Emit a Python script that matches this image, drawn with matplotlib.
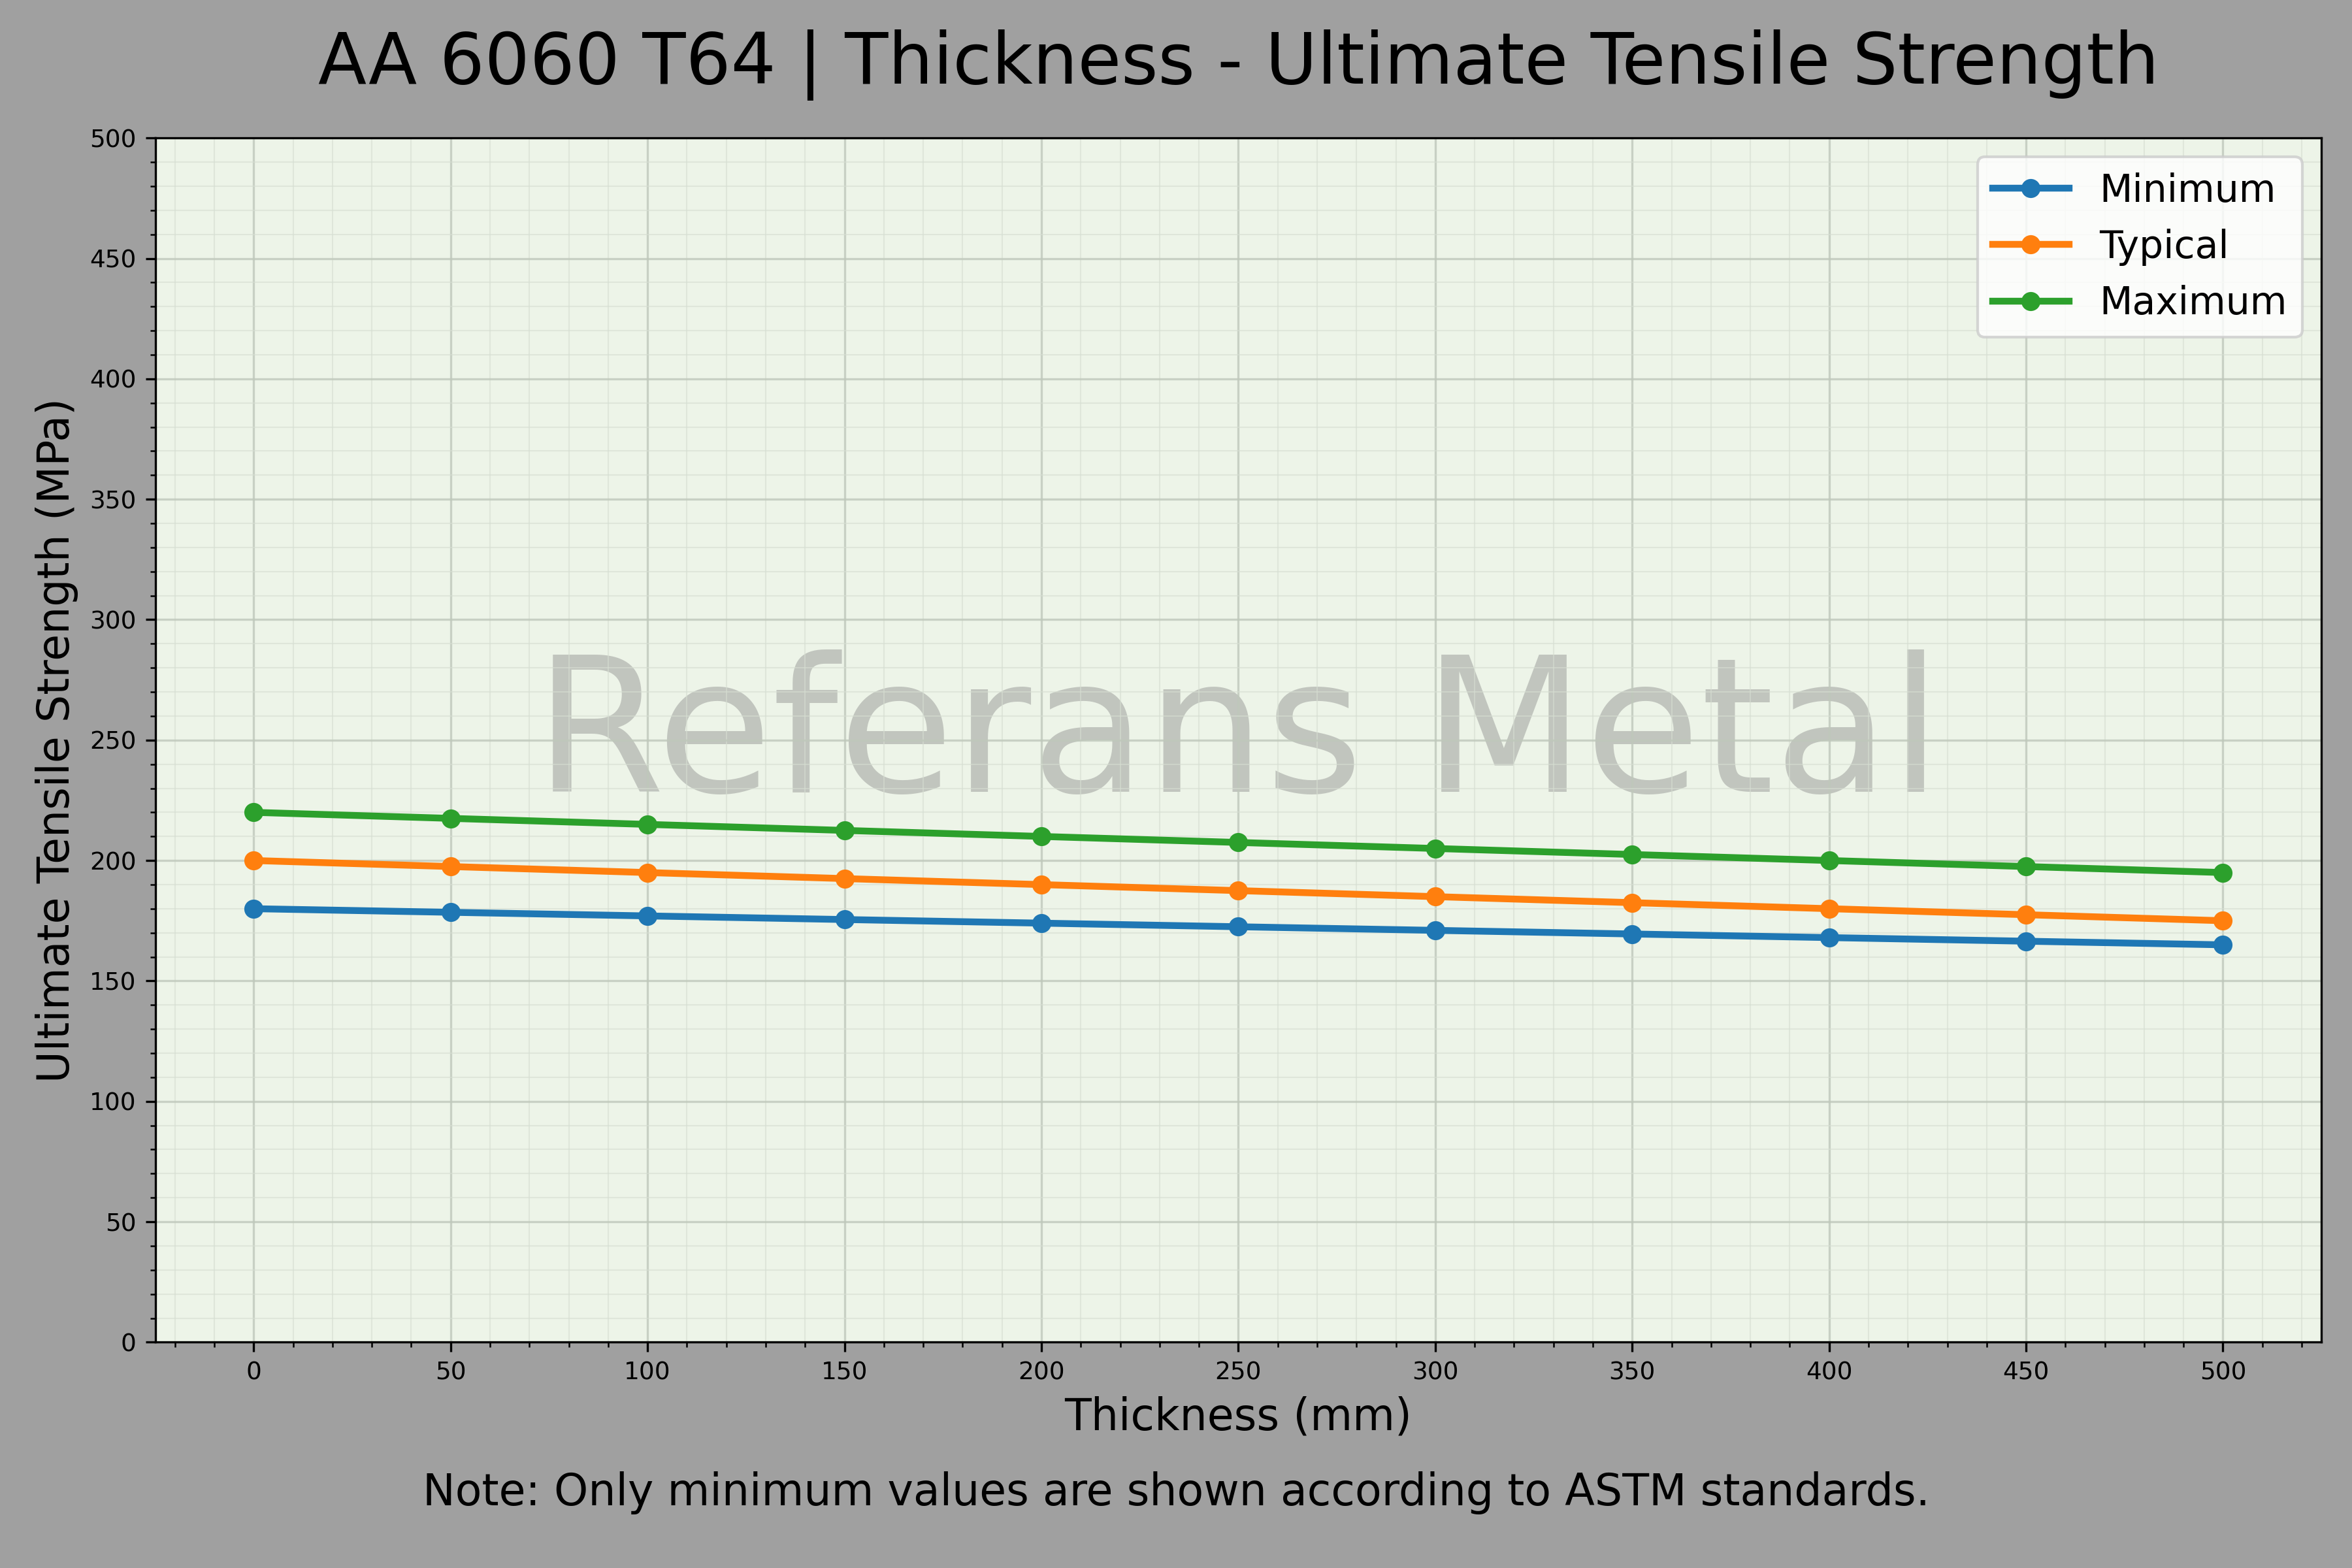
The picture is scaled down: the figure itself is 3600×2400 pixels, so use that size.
import matplotlib
matplotlib.use("Agg")
import matplotlib.pyplot as plt
from matplotlib.ticker import AutoMinorLocator

thickness = [0, 50, 100, 150, 200, 250, 300, 350, 400, 450, 500]
minimum = [180, 178.5, 177, 175.5, 174, 172.5, 171, 169.5, 168, 166.5, 165]
typical = [200, 197.5, 195, 192.5, 190, 187.5, 185, 182.5, 180, 177.5, 175]
maximum = [220, 217.5, 215, 212.5, 210, 207.5, 205, 202.5, 200, 197.5, 195]

fig = plt.figure(figsize=(12, 8), dpi=300, facecolor="#a0a0a0")
ax = fig.add_axes([0.066, 0.144, 0.921, 0.768])
ax.set_facecolor("#edf4e8")

ax.plot(thickness, minimum, "-o", color="#1f77b4", lw=2.5, ms=6, label="Minimum")
ax.plot(thickness, typical, "-o", color="#ff7f0e", lw=2.5, ms=6, label="Typical")
ax.plot(thickness, maximum, "-o", color="#2ca02c", lw=2.5, ms=6, label="Maximum")

ax.set_ylim(0, 500)
ax.set_xlim(-25, 525)
ax.set_xticks(thickness)
ax.set_yticks(range(0, 501, 50))
ax.xaxis.set_minor_locator(AutoMinorLocator(5))
ax.yaxis.set_minor_locator(AutoMinorLocator(5))
ax.tick_params(labelsize=9)
ax.grid(which="major", color="#bfc8bb", lw=0.8, alpha=0.8)
ax.grid(which="minor", color="#d6ded2", lw=0.5, alpha=0.6)
ax.set_axisbelow(True)

ax.text(0.5, 0.5, "Referans Metal", transform=ax.transAxes, fontsize=69,
        color="gray", alpha=0.4, ha="center", va="center", zorder=0)

ax.set_xlabel("Thickness (mm)", fontsize=16)
ax.set_ylabel("Ultimate Tensile Strength (MPa)", fontsize=16)
ax.set_title("AA 6060 T64 | Thickness - Ultimate Tensile Strength", fontsize=26, pad=20)
fig.text(0.5, 0.04, "Note: Only minimum values are shown according to ASTM standards.",
         ha="center", fontsize=16)
ax.legend(loc="upper right", fontsize=14)
fig.savefig("out.png", dpi=300, facecolor=fig.get_facecolor())
